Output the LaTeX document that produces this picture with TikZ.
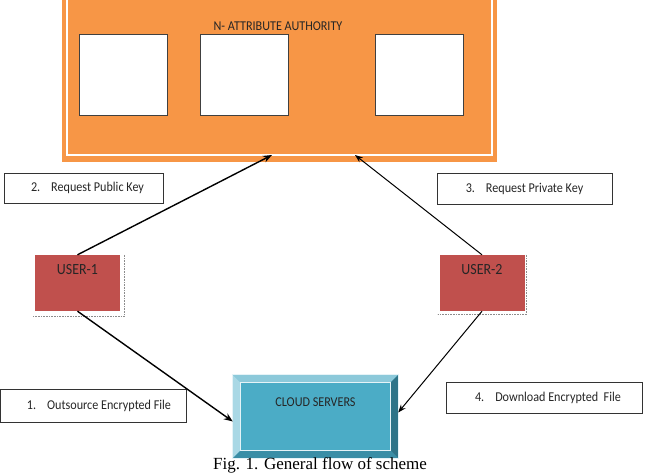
\documentclass[tikz,border=0pt]{standalone}
\usepackage{fontspec}
\setmainfont{Carlito}[FakeStretch=0.9]
\newfontfamily\captionserif{Liberation Serif}
\usepackage{tikz}
\usetikzlibrary{calc,arrows.meta}
\definecolor{authorange}{HTML}{F79646}
\definecolor{userred}{HTML}{C0504D}
\definecolor{cloudblue}{HTML}{4BACC6}
\definecolor{cloudleft}{HTML}{A9D8E5}
\definecolor{cloudtop}{HTML}{8CC9DA}
\definecolor{cloudright}{HTML}{2E7488}
\definecolor{cloudbottom}{HTML}{3A8EA6}
\definecolor{inktext}{HTML}{262626}

\begin{document}
\begin{tikzpicture}[x=1pt, y=-1pt,
  stepbox/.style={
    rectangle, draw=black!80, line width=0.9pt, fill=white,
    inner sep=0pt, font=\fontsize{13.5}{15}\selectfont, text=inktext,
  },
  attrbox/.style={
    rectangle, draw=black!75, line width=0.8pt, fill=white,
    minimum width=88pt, minimum height=81pt,
  },
  userbox/.style={
    rectangle, fill=userred, minimum width=85pt, inner sep=0pt,
    text height=19pt, text depth=37pt,
    font=\fontsize{15.5}{17}\selectfont, text=inktext,
  },
  flow/.style={-{Stealth[length=9pt, width=7pt]}, line width=1.4pt},
  flowthin/.style={-{Stealth[length=8pt, width=6pt]}, line width=1pt},
]
\clip (0,0) rectangle (648,474);

% Attribute authority
\node[rectangle, fill=authorange, minimum width=435pt, minimum height=176pt, inner sep=0pt] (aa) at (279.5,74) {};
\draw[white, line width=1.6pt] ([shift={(5pt,7pt)}]aa.south west) rectangle ([shift={(-5pt,3pt)}]aa.north east);
\node[font=\fontsize{13.5}{15}\selectfont, text=inktext] (aatitle) at (278,26) {N- ATTRIBUTE AUTHORITY};
\node[attrbox] (attr1) at (123,74.5) {};
\node[attrbox] (attr2) at (244,74.5) {};
\node[attrbox] (attr3) at (419,74.5) {};
\coordinate (pubin) at (272,155);
\coordinate (privin) at (355,155);

% Users
\node[userbox] (user1) at (77.5,283) {USER-1};
\draw[densely dotted, black!45, line width=0.6pt] ([xshift=4pt]user1.north east) -- ([shift={(4pt,-5pt)}]user1.south east) -- ([shift={(-2pt,-5pt)}]user1.south west);
\node[userbox] (user2) at (482,283) {USER-2};
\draw[densely dotted, black!45, line width=0.6pt] ([xshift=2pt]user2.north east) -- ([shift={(2pt,-3pt)}]user2.south east) -- ([shift={(-2pt,-3pt)}]user2.south west);

% Cloud servers
\node[rectangle, fill=cloudblue, minimum width=165pt, inner sep=0pt, text height=31pt, text depth=52pt,
  font=\fontsize{13.5}{15}\selectfont, text=inktext] (cloud) at (315.5,416.5) {CLOUD SERVERS};
\fill[cloudtop] (cloud.north west) -- (cloud.north east) -- ([shift={(-8pt,-8pt)}]cloud.north east) -- ([shift={(8pt,-8pt)}]cloud.north west) -- cycle;
\fill[cloudleft] (cloud.north west) -- ([shift={(8pt,-8pt)}]cloud.north west) -- ([shift={(8pt,8pt)}]cloud.south west) -- (cloud.south west) -- cycle;
\fill[cloudright] (cloud.north east) -- (cloud.south east) -- ([shift={(-8pt,8pt)}]cloud.south east) -- ([shift={(-8pt,-8pt)}]cloud.north east) -- cycle;
\fill[cloudbottom] (cloud.south west) -- ([shift={(8pt,8pt)}]cloud.south west) -- ([shift={(-8pt,8pt)}]cloud.south east) -- (cloud.south east) -- cycle;
\draw[white!70!cloudleft, line width=0.7pt] ([shift={(8pt,-8pt)}]cloud.north west) rectangle ([shift={(-8pt,8pt)}]cloud.south east);
\draw[white!70!cloudleft, line width=1pt] (cloud.north west) rectangle (cloud.south east);

% Step labels
\node[stepbox, minimum width=159pt, minimum height=30pt] (pubkey) at (83.5,188) {\hspace{8pt}2.\hspace{11pt}Request Public Key};
\node[stepbox, minimum width=175pt, minimum height=31pt] (privkey) at (524.5,188.5) {3.\hspace{11pt}Request Private Key};
\node[stepbox, minimum width=186pt, minimum height=33pt] (outsrc) at (93,405.5) {\hspace{12pt}1.\hspace{11pt}Outsource Encrypted File};
\node[stepbox, minimum width=196pt, minimum height=31pt] (dlfile) at (544,397.5) {\hspace{8pt}4.\hspace{11pt}Download Encrypted\ \ File};

% Flows
\draw[flow] (user1.north) -- (pubin);
\draw[flowthin] (user2.north) -- (privin);
\draw[flow] (user1.south) -- ([yshift=-5pt]cloud.west);
\draw[flowthin] (user2.south) -- ([yshift=4pt]cloud.east);

% Caption
\node[anchor=base, font=\captionserif\fontsize{17}{20}\selectfont] (figcap) at (320,469.5) {Fig. 1. General flow of scheme};

\end{tikzpicture}
\end{document}
